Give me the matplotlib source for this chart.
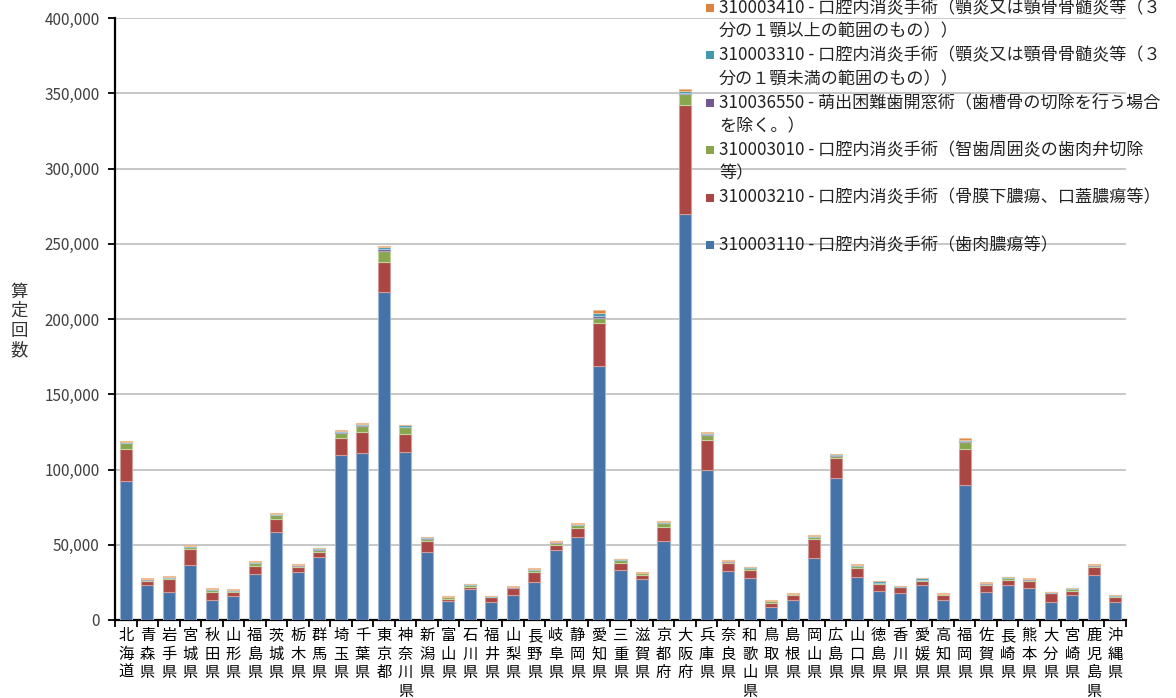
import numpy as np
import matplotlib
matplotlib.use("Agg")
import matplotlib.pyplot as plt
from matplotlib.ticker import FuncFormatter, MultipleLocator, FixedLocator
from matplotlib.patches import Rectangle

plt.rcParams['font.family'] = ['Noto Sans CJK JP', 'DejaVu Sans']

# 都道府県
prefs = ["北海道", "青森県", "岩手県", "宮城県", "秋田県", "山形県", "福島県", "茨城県",
         "栃木県", "群馬県", "埼玉県", "千葉県", "東京都", "神奈川県", "新潟県", "富山県",
         "石川県", "福井県", "山梨県", "長野県", "岐阜県", "静岡県", "愛知県", "三重県",
         "滋賀県", "京都府", "大阪府", "兵庫県", "奈良県", "和歌山県", "鳥取県", "島根県",
         "岡山県", "広島県", "山口県", "徳島県", "香川県", "愛媛県", "高知県", "福岡県",
         "佐賀県", "長崎県", "熊本県", "大分県", "宮崎県", "鹿児島県", "沖縄県"]

# 310003110 歯肉膿瘍等
s3110 = [92400, 23300, 18800, 36300, 13300, 16200, 30800, 58300, 31700, 41700, 109600, 110800,
         218100, 111600, 45400, 12400, 20400, 12200, 16800, 25200, 46300, 55400, 168800, 33400,
         27000, 52700, 269600, 99700, 32300, 28100, 8600, 13300, 41000, 94100, 28800, 19500,
         17900, 23300, 13300, 89500, 18800, 23300, 21500, 12200, 16800, 29700, 12200]
# 310003210 骨膜下膿瘍、口蓋膿瘍等
s3210 = [21000, 2800, 8200, 10900, 5300, 2400, 5300, 9000, 3500, 3700, 11100, 14300,
         20000, 12000, 7100, 1600, 1700, 2900, 4200, 6900, 3300, 5500, 28500, 4200,
         2700, 9300, 72600, 20100, 5600, 5300, 2900, 3500, 12600, 13700, 5500, 4600,
         3800, 2800, 3500, 23900, 4500, 3500, 4400, 5500, 2500, 5500, 2900]
# 310003010 智歯周囲炎の歯肉弁切除等
s3010 = [4000, 800, 1000, 1200, 1200, 900, 1500, 2200, 900, 1300, 3500, 4000,
         7300, 4400, 1600, 1000, 1200, 400, 500, 1200, 1500, 2000, 3500, 2000,
         1200, 2300, 7000, 3100, 900, 1000, 1000, 500, 1500, 1500, 1500, 700,
         400, 700, 300, 5000, 900, 1100, 1000, 400, 1200, 1000, 1000]
# 310036550 萌出困難歯開窓術
s6550 = [300, 100, 100, 200, 100, 100, 200, 300, 200, 300, 600, 500,
         1200, 500, 200, 100, 100, 100, 500, 200, 400, 300, 1000, 100,
         100, 400, 1000, 500, 200, 200, 100, 100, 300, 300, 300, 100,
         100, 100, 100, 500, 200, 200, 200, 100, 200, 200, 100]
# 310003310 顎炎又は顎骨骨髄炎等(3分の1顎未満)
s3310 = [700, 500, 700, 600, 1000, 400, 700, 800, 400, 600, 800, 700,
         1200, 800, 700, 500, 300, 200, 200, 500, 500, 700, 2500, 600,
         300, 700, 1600, 1100, 300, 400, 300, 200, 700, 400, 500, 700,
         200, 700, 100, 1000, 300, 400, 300, 100, 300, 300, 400]
# 310003410 顎炎又は顎骨骨髄炎等(3分の1顎以上)
s3410 = [500, 200, 200, 400, 500, 400, 500, 300, 300, 400, 400, 400,
         700, 300, 300, 300, 400, 100, 400, 300, 500, 500, 1700, 200,
         400, 400, 900, 600, 300, 200, 400, 100, 400, 300, 400, 300,
         200, 300, 400, 800, 300, 300, 300, 300, 300, 300, 200]

series = [s3110, s3210, s3010, s6550, s3310, s3410]
colors = ["#4572A7", "#AA4643", "#89A54E", "#71588F", "#4198AF", "#DB843D"]
edges = ["#9DB5D6", "#D49A98", "#C2D3A0", "#B2A3C6", "#9CCAD8", "#EDBE96"]
labels = [
    ["310003110 - 口腔内消炎手術（歯肉膿瘍等）"],
    ["310003210 - 口腔内消炎手術（骨膜下膿瘍、口蓋膿瘍等）"],
    ["310003010 - 口腔内消炎手術（智歯周囲炎の歯肉弁切除", "等）"],
    ["310036550 - 萌出困難歯開窓術（歯槽骨の切除を行う場合", "を除く。）"],
    ["310003310 - 口腔内消炎手術（顎炎又は顎骨骨髄炎等（３", "分の１顎未満の範囲のもの））"],
    ["310003410 - 口腔内消炎手術（顎炎又は顎骨骨髄炎等（３", "分の１顎以上の範囲のもの））"],
]

W, H = 1176, 698
fig = plt.figure(figsize=(W / 100, H / 100), dpi=100)
ax = fig.add_axes([115 / W, 1 - 620 / H, (1126 - 115) / W, (620 - 18) / H])

x = np.arange(len(prefs))
bottom = np.zeros(len(prefs))
for vals, c, e in zip(series, colors, edges):
    v = np.array(vals, dtype=float)
    ax.bar(x, v, width=0.56, bottom=bottom, color=c, edgecolor=e, linewidth=0.8, zorder=3)
    bottom += v

ax.set_xlim(-0.5, len(prefs) - 0.5)
ax.set_ylim(0, 400000)
ax.yaxis.set_major_locator(MultipleLocator(50000))
ax.yaxis.set_major_formatter(FuncFormatter(lambda v, p: f"{v:,.0f}"))
ax.yaxis.grid(True, color="#BEBEBE", linewidth=1.2, zorder=0)
ax.set_axisbelow(True)

ax.set_xticks(x)
ax.set_xticklabels(["\n".join(p) for p in prefs], fontsize=11, linespacing=1.12,
                   va="top")
ax.xaxis.set_minor_locator(FixedLocator(np.arange(len(prefs) + 1) - 0.5))
ax.tick_params(axis="x", which="major", length=0, pad=5)
ax.tick_params(axis="x", which="minor", length=5, width=1.3, direction="out")
ax.tick_params(axis="y", length=5, width=1.3, direction="out", labelsize=11,
               labelcolor="#404040", pad=6)

for s in ["top", "right"]:
    ax.spines[s].set_visible(False)
for s in ["left", "bottom"]:
    ax.spines[s].set_linewidth(1.6)
    ax.spines[s].set_color("black")

# y軸ラベル（縦書き）
fig.text(19 / W, 1 - 321 / H, "算\n定\n回\n数", ha="center", va="center",
         fontsize=12.5, linespacing=1.12, color="#333333")

# 凡例（上から逆順）
for i, (c, lab) in enumerate(zip(colors[::-1], labels[::-1])):
    y0 = 8 + 47.4 * i
    fig.patches.append(Rectangle((706 / W, 1 - (y0 + 4) / H), 8 / W, 8 / H,
                                 transform=fig.transFigure, facecolor=c,
                                 edgecolor="none", figure=fig))
    for j, line in enumerate(lab):
        fig.text(719 / W, 1 - (y0 + 23.5 * j) / H, line, ha="left", va="center",
                 fontsize=12.3, color="#222222")

fig.savefig("out.png", dpi=100)
